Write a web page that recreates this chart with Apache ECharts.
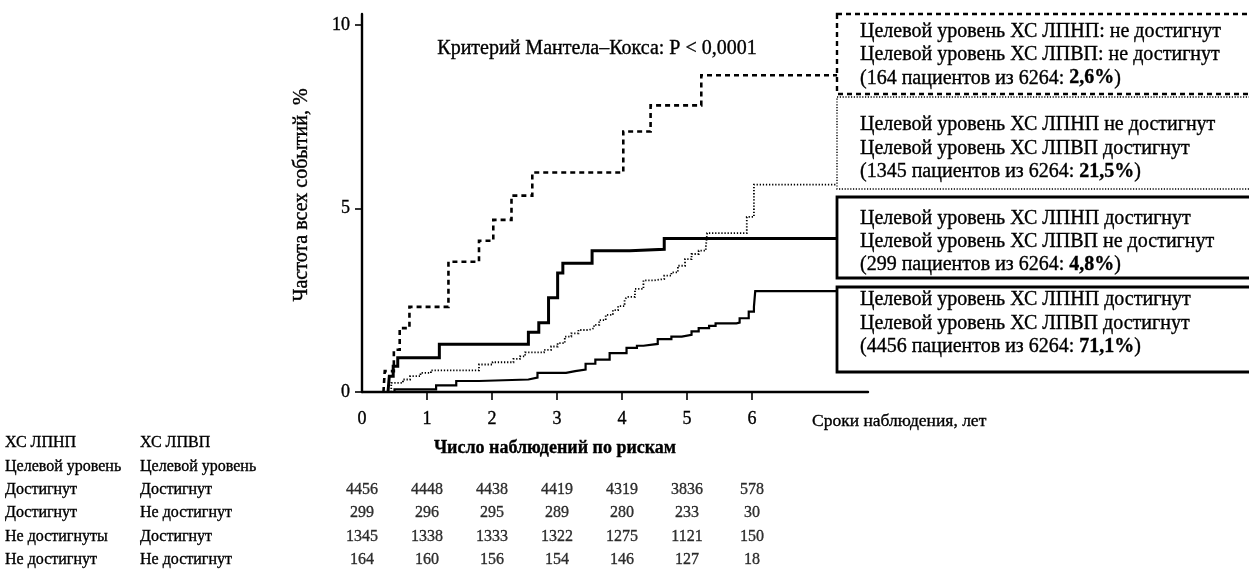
<!DOCTYPE html>
<html>
<head>
<meta charset="utf-8">
<script src="https://cdn.jsdelivr.net/npm/echarts@6/dist/echarts.min.js"></script>
<style>
html,body{margin:0;padding:0;background:#fff;}
#chart{width:1249px;height:584px;}
</style>
</head>
<body>
<div id="chart"></div>
<script>
// ---- Kaplan–Meier curves (years, cumulative event rate %) ----
const noneT = [0.33,0.35,0.49,0.58,0.73,1.33,1.80,2.02,2.30,2.62,4.02,4.44,5.22,7.31];
const noneV = [0,0.57,1.15,1.74,2.32,3.55,4.12,4.69,5.35,5.98,7.10,7.81,8.63,8.63];

const hdlOnlyT = [0.40,0.45,0.63,0.74,0.90,1.06,1.80,2.01,2.33,2.43,2.51,2.80,2.91,3.01,3.12,3.22,3.33,3.49,3.57,3.65,3.75,3.86,3.94,4.04,4.07,4.20,4.33,4.49,4.65,4.76,4.86,4.97,5.07,5.18,5.29,5.31,5.92,6.03,7.31];
const hdlOnlyV = [0,0.25,0.34,0.43,0.52,0.59,0.75,0.81,0.90,0.97,1.08,1.15,1.24,1.33,1.51,1.60,1.69,1.74,1.83,1.96,2.10,2.23,2.34,2.50,2.59,2.81,3.04,3.08,3.17,3.26,3.44,3.62,3.76,3.85,3.94,4.33,4.77,5.65,5.65];

const ldlOnlyT = [0.40,0.42,0.48,0.55,1.19,2.56,2.72,2.87,3.01,3.09,3.54,4.12,4.65,7.31];
const ldlOnlyV = [0,0.43,0.70,0.93,1.30,1.63,1.89,2.57,3.24,3.51,3.85,3.89,4.18,4.18];

const bothT = [0.40,0.50,1.14,1.45,1.80,2.56,2.70,3.14,3.28,3.44,3.59,3.81,4.07,4.23,4.33,4.55,4.76,4.92,5.07,5.18,5.34,5.44,5.76,5.81,5.95,6.03,6.05,7.31];
const bothV = [0,0.07,0.18,0.30,0.34,0.39,0.52,0.57,0.61,0.77,0.88,1.06,1.20,1.26,1.31,1.44,1.51,1.56,1.65,1.74,1.80,1.87,1.89,2.01,2.19,2.32,2.75,2.75];

// ---- axes ----
const xTickLabels = [0,1,2,3,4,5,6];
const yTickLabels = [0,5,10];

// ---- number at risk table ----
const riskYears = [0,1,2,3,4,5,6];
const riskBoth    = [4456,4448,4438,4419,4319,3836,578];
const riskLdlOnly = [299,296,295,289,280,233,30];
const riskHdlOnly = [1345,1338,1333,1322,1275,1121,150];
const riskNone    = [164,160,156,154,146,127,18];
const ldlColumn = ['ХС ЛПНП','Целевой уровень','Достигнут','Достигнут','Не достигнуты','Не достигнут'];
const hdlColumn = ['ХС ЛПВП','Целевой уровень','Достигнут','Не достигнут','Достигнут','Не достигнут'];

// ---- legend boxes ----
const boxLine1 = ['Целевой уровень ХС ЛПНП: не достигнут','Целевой уровень ХС ЛПНП не достигнут','Целевой уровень ХС ЛПНП достигнут','Целевой уровень ХС ЛПНП достигнут'];
const boxLine2 = ['Целевой уровень ХС ЛПВП: не достигнут','Целевой уровень ХС ЛПВП достигнут','Целевой уровень ХС ЛПВП не достигнут','Целевой уровень ХС ЛПВП достигнут'];
const boxPatients = ['164','1345','299','4456'];
const boxTotal = '6264';
const boxShare = ['2,6%','21,5%','4,8%','71,1%'];

const FONT = '"Liberation Serif", "Times New Roman", serif';
const INK = '#000';
const HEAVY = 0.35; // slight stroke to mimic printed weight

const zip = (t, v) => t.map((x, i) => [x, v[i]]);

const chart = echarts.init(document.getElementById('chart'), null, {renderer: 'canvas'});

const G = {left: 362, top: 14, width: 506, height: 378};
const XMAX = 7.785, YMAX = 10.3;

const rowData = [];
[riskBoth, riskLdlOnly, riskHdlOnly, riskNone].forEach((arr, r) => {
  arr.forEach((v, i) => rowData.push([riskYears[i], r + 2, v]));
});

// zrender text style (graphic component)
const txt = (size, weight) => ({
  font: (weight === 'bold' ? 'bold ' : '') + size + 'px ' + FONT,
  fill: INK, stroke: INK, lineWidth: HEAVY
});
const richPart = (size, weight) => ({
  fontFamily: FONT, fontSize: size, fontWeight: weight || 'normal',
  fill: INK, stroke: INK, lineWidth: HEAVY
});

// box geometry (styles)
const boxes = [
  {y: 14, h: 80, dash: [5, 4], lw: 2.4, lines: [31.7, 55, 78.3]},
  {y: 97, h: 92, dash: [1.2, 1.6], lw: 1.4, lines: [125, 148.3, 171.7]},
  {y: 197, h: 81, dash: null, lw: 2.8, lines: [218.3, 241.7, 265]},
  {y: 287, h: 85, dash: null, lw: 2.8, lines: [300, 323.3, 346.7]}
];
const BOXFS = 20;
const graphics = [];
boxes.forEach((b, i) => {
  graphics.push({
    type: 'rect', shape: {x: 837, y: b.y, width: 440, height: b.h},
    style: {fill: '#fff', stroke: '#000', lineWidth: b.lw, lineDash: b.dash || null}, z: 1
  });
  graphics.push({type: 'text', x: 860, y: b.lines[0], z: 2, style: Object.assign(txt(BOXFS), {text: boxLine1[i], verticalAlign: 'middle'})});
  graphics.push({type: 'text', x: 860, y: b.lines[1], z: 2, style: Object.assign(txt(BOXFS), {text: boxLine2[i], verticalAlign: 'middle'})});
  graphics.push({type: 'text', x: 860, y: b.lines[2], z: 2, style: {
    text: '{n|(' + boxPatients[i] + ' пациентов из ' + boxTotal + ': }{b|' + boxShare[i] + '}{n|)}',
    verticalAlign: 'middle',
    rich: {n: richPart(BOXFS), b: richPart(BOXFS, 'bold')}
  }});
});
graphics.push({type: 'text', x: 597, y: 49, style: Object.assign(txt(20), {text: 'Критерий Мантела–Кокса: P < 0,0001', align: 'center', verticalAlign: 'middle'})});
graphics.push({type: 'text', x: 812, y: 421, style: Object.assign(txt(17.5), {text: 'Сроки наблюдения, лет', verticalAlign: 'middle'})});
graphics.push({type: 'text', x: 555, y: 448, style: Object.assign(txt(18, 'bold'), {text: 'Число наблюдений по рискам', align: 'center', verticalAlign: 'middle'})});
graphics.push({type: 'text', x: 302, y: 195, rotation: Math.PI / 2, style: Object.assign(txt(20), {text: 'Частота всех событий, %', align: 'center', verticalAlign: 'middle'})});

const baseLine = (name, t, v, width, dash) => ({
  name, type: 'line', step: 'end', data: zip(t, v), showSymbol: false, symbol: 'none',
  xAxisIndex: 0, yAxisIndex: 0, silent: true, animation: false, z: 3,
  lineStyle: {color: '#000', width, type: dash || 'solid', cap: 'butt', join: 'miter'}
});

chart.setOption({
  backgroundColor: '#fff',
  animation: false,
  grid: [
    G,
    {left: 362, top: 431.3, width: 506, height: 140.4}
  ],
  xAxis: [
    {
      type: 'value', gridIndex: 0, min: 0, max: XMAX,
      axisLine: {show: true, lineStyle: {color: '#000', width: 2.4}},
      axisTick: {show: true, customValues: [1,2,3,4,5,6], length: 8, inside: false, lineStyle: {color: '#000', width: 1.6}},
      axisLabel: {show: true, customValues: xTickLabels, margin: 18, fontFamily: FONT, fontSize: 18, color: INK, textBorderColor: INK, textBorderWidth: HEAVY},
      splitLine: {show: false}
    },
    {type: 'value', gridIndex: 1, min: 0, max: XMAX, show: false}
  ],
  yAxis: [
    {
      type: 'value', gridIndex: 0, min: 0, max: YMAX,
      axisLine: {show: true, lineStyle: {color: '#000', width: 2.4}},
      axisTick: {show: true, customValues: yTickLabels, length: 7, lineStyle: {color: '#000', width: 1.6}},
      axisLabel: {show: true, customValues: yTickLabels, margin: 12, fontFamily: FONT, fontSize: 18, color: INK, textBorderColor: INK, textBorderWidth: HEAVY},
      splitLine: {show: false}
    },
    {
      type: 'category', gridIndex: 1, inverse: true, data: ldlColumn.map((_, i) => i),
      axisLine: {show: false}, axisTick: {show: false}, splitLine: {show: false},
      axisLabel: {
        show: true, interval: 0, align: 'left', margin: 357,
        formatter: (v, i) => '{a|' + ldlColumn[i] + '}{b|' + hdlColumn[i] + '}',
        rich: {
          a: {width: 135, fontFamily: FONT, fontSize: 16, color: INK, textBorderColor: INK, textBorderWidth: HEAVY},
          b: {fontFamily: FONT, fontSize: 16, color: INK, textBorderColor: INK, textBorderWidth: HEAVY}
        }
      }
    }
  ],
  series: [
    baseLine('none', noneT, noneV, 2.6, [5, 4]),
    baseLine('hdlOnly', hdlOnlyT, hdlOnlyV, 1.8, [1.3, 1.8]),
    baseLine('ldlOnly', ldlOnlyT, ldlOnlyV, 3),
    baseLine('both', bothT, bothV, 2.2),
    {
      type: 'scatter', xAxisIndex: 1, yAxisIndex: 1, data: rowData, symbolSize: 0, silent: true,
      label: {show: true, position: 'inside', formatter: p => String(p.value[2]), fontFamily: FONT, fontSize: 16, color: INK, textBorderColor: INK, textBorderWidth: HEAVY}
    }
  ],
  graphic: graphics
});
</script>
</body>
</html>
